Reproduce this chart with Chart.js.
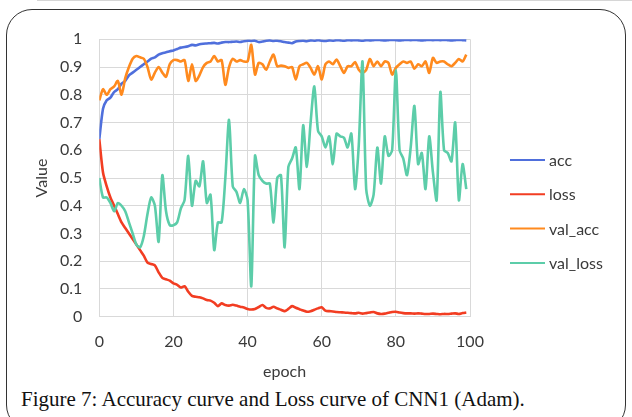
<!DOCTYPE html>
<html>
<head>
<meta charset="utf-8">
<script src="https://cdn.jsdelivr.net/npm/chart.js@4/dist/chart.umd.min.js"></script>
<style>
  html, body { margin: 0; padding: 0; background: #fff; }
  body { width: 632px; height: 417px; position: relative; overflow: hidden; }
  #frame {
    position: absolute; left: 6px; top: 9px; width: 618px; height: 420px;
    border: 1.3px solid #333; border-radius: 26px;
  }
  #topline { position: absolute; left: 37px; top: 0; width: 595px; height: 1px; background: #d6d6d6; }
  #chart { position: absolute; left: 0; top: 0; }
  #caption {
    position: absolute; left: 21px; top: 387px; white-space: nowrap;
    font-family: "Liberation Serif", "DejaVu Serif", serif; font-size: 21px; color: #111;
  }
</style>
</head>
<body>
<div id="topline"></div>
<div id="frame"></div>
<canvas id="chart" width="632" height="385"></canvas>
<div id="caption">Figure 7: Accuracy curve and Loss curve of CNN1 (Adam).</div>
<script>
'use strict';

// ******* DATA (one value per epoch 0..99) *******
let seriesNames = ['acc', 'loss', 'val_acc', 'val_loss'];
let yTicks = [0, 0.1, 0.2, 0.3, 0.4, 0.5, 0.6, 0.7, 0.8, 0.9, 1];
let xTicks = [0, 20, 40, 60, 80, 100];

let acc = [
  0.64, 0.75, 0.78, 0.79, 0.81, 0.82, 0.84, 0.85, 0.87, 0.88,
  0.89, 0.90, 0.91, 0.92, 0.93, 0.935, 0.945, 0.95, 0.953, 0.957,
  0.96, 0.965, 0.97, 0.972, 0.975, 0.98, 0.978, 0.982, 0.984, 0.985,
  0.986, 0.987, 0.985, 0.988, 0.99, 0.99, 0.991, 0.992, 0.99, 0.993,
  0.995, 0.994, 0.995, 0.99, 0.992, 0.995, 0.996, 0.994, 0.995, 0.993,
  0.99, 0.988, 0.986, 0.992, 0.994, 0.995, 0.993, 0.996, 0.995, 0.997,
  0.995, 0.994, 0.996, 0.995, 0.997, 0.996, 0.995, 0.997, 0.996, 0.997,
  0.996, 0.995, 0.997, 0.996, 0.997, 0.998, 0.997, 0.996, 0.997, 0.998,
  0.997, 0.996, 0.997, 0.998, 0.997, 0.998, 0.997, 0.996, 0.997, 0.998,
  0.997, 0.998, 0.997, 0.998, 0.997, 0.996, 0.997, 0.998, 0.997, 0.996
];

let loss = [
  0.64, 0.52, 0.47, 0.43, 0.40, 0.37, 0.34, 0.32, 0.30, 0.28,
  0.26, 0.24, 0.22, 0.195, 0.19, 0.185, 0.16, 0.14, 0.135, 0.13,
  0.12, 0.115, 0.105, 0.11, 0.09, 0.075, 0.072, 0.07, 0.066, 0.06,
  0.058, 0.05, 0.038, 0.048, 0.042, 0.04, 0.043, 0.04, 0.036, 0.033,
  0.028, 0.026, 0.028, 0.035, 0.042, 0.032, 0.03, 0.036, 0.03, 0.025,
  0.02, 0.028, 0.038, 0.032, 0.027, 0.022, 0.018, 0.02, 0.025, 0.03,
  0.034, 0.022, 0.02, 0.019, 0.017, 0.016, 0.015, 0.014, 0.013, 0.012,
  0.014, 0.011, 0.013, 0.015, 0.017, 0.012, 0.01, 0.011, 0.014, 0.017,
  0.018, 0.015, 0.013, 0.012, 0.012, 0.011, 0.012, 0.011, 0.01, 0.01,
  0.011, 0.01, 0.009, 0.01, 0.01, 0.011, 0.012, 0.01, 0.013, 0.015
];

let valAcc = [
  0.78, 0.82, 0.80, 0.82, 0.83, 0.85, 0.80, 0.86, 0.90, 0.93,
  0.94, 0.935, 0.93, 0.90, 0.855, 0.88, 0.90, 0.88, 0.865, 0.91,
  0.925, 0.925, 0.92, 0.925, 0.85, 0.91, 0.85, 0.87, 0.90, 0.915,
  0.92, 0.94, 0.92, 0.925, 0.836, 0.90, 0.93, 0.92, 0.925, 0.92,
  0.92, 0.98, 0.873, 0.915, 0.91, 0.89, 0.92, 0.945, 0.903, 0.905,
  0.903, 0.897, 0.90, 0.855, 0.903, 0.91, 0.915, 0.897, 0.873, 0.903,
  0.855, 0.91, 0.92, 0.91, 0.927, 0.903, 0.879, 0.903, 0.903, 0.918,
  0.89, 0.879, 0.89, 0.929, 0.903, 0.92, 0.903, 0.92, 0.915, 0.873,
  0.897, 0.91, 0.92, 0.915, 0.92, 0.894, 0.91, 0.903, 0.92, 0.879,
  0.933, 0.915, 0.92, 0.92, 0.91, 0.903, 0.915, 0.929, 0.92, 0.945
];

let valLoss = [
  0.50, 0.43, 0.43, 0.41, 0.38, 0.41, 0.40, 0.38, 0.34, 0.30,
  0.26, 0.25, 0.29, 0.37, 0.43, 0.40, 0.27, 0.51, 0.38, 0.33,
  0.33, 0.34, 0.39, 0.42, 0.58, 0.40, 0.49, 0.47, 0.56, 0.41,
  0.44, 0.24, 0.34, 0.34, 0.50, 0.71, 0.47, 0.45, 0.41, 0.46,
  0.42, 0.11, 0.58, 0.51, 0.49, 0.48, 0.48, 0.34, 0.50, 0.51,
  0.25, 0.54, 0.57, 0.61, 0.46, 0.69, 0.54, 0.70, 0.83, 0.67,
  0.65, 0.61, 0.65, 0.55, 0.66, 0.65, 0.645, 0.61, 0.66, 0.46,
  0.62, 0.92, 0.46, 0.40, 0.44, 0.61, 0.48, 0.65, 0.58, 0.60,
  0.89, 0.60, 0.57, 0.51, 0.61, 0.76, 0.55, 0.59, 0.46, 0.65,
  0.52, 0.42, 0.81, 0.60, 0.59, 0.56, 0.70, 0.42, 0.55, 0.46
];

let seriesColors = ['#4f6fdc', '#f23d22', '#ff8a1e', '#5ccda9'];

// ******* HELPERS *******
function toPoints(values) {
  return values.map((v, i) => ({ x: i, y: v }));
}

let textColor = '#3a3a3a';
let uiFont = 'Lato, "Open Sans", "Liberation Sans", sans-serif';
let gridColor = '#d9d9d9';

// legend drawn at the right like the Excel one
let sideLegend = {
  id: 'sideLegend',
  afterDraw(chart) {
    let c = chart.ctx;
    c.save();
    chart.data.datasets.forEach((ds, i) => {
      let y = 160 + i * 34.3;
      c.strokeStyle = ds.borderColor;
      c.lineWidth = 2;
      c.beginPath();
      c.moveTo(510, y);
      c.lineTo(545, y);
      c.stroke();
      c.fillStyle = textColor;
      c.font = '16px ' + uiFont;
      c.textBaseline = 'middle';
      c.textAlign = 'left';
      c.fillText(ds.label, 549, y + 1);
    });
    c.restore();
  }
};

let datasets = [acc, loss, valAcc, valLoss].map((vals, i) => ({
  label: seriesNames[i],
  data: toPoints(vals),
  borderColor: seriesColors[i],
  backgroundColor: seriesColors[i],
  borderWidth: 2.6,
  pointRadius: 0,
  tension: 0.25,
  order: 4 - i
}));

let ctx = document.getElementById('chart');

new Chart(ctx, { //eslint-disable-line
  type: 'line',
  data: { datasets: datasets },
  plugins: [sideLegend],
  options: {
    responsive: false,
    animation: false,
    layout: { padding: { left: 32, top: 39.3, right: 162, bottom: 3.4 } },
    plugins: {
      legend: { display: false },
      tooltip: { enabled: false }
    },
    scales: {
      x: {
        type: 'linear',
        min: 0,
        max: 100,
        afterFit: (s) => { s.height = 64.9; },
        afterBuildTicks: (s) => { s.ticks = xTicks.map(v => ({ value: v })); },
        grid: { color: gridColor, drawTicks: false },
        border: { color: gridColor },
        ticks: { color: textColor, padding: 16, font: { family: uiFont, size: 16 }, maxRotation: 0 },
        title: { display: true, text: 'epoch', color: textColor, padding: 0, font: { family: uiFont, size: 16 } }
      },
      y: {
        min: 0,
        max: 1,
        afterFit: (s) => { s.width = 67.3; },
        afterBuildTicks: (s) => { s.ticks = yTicks.map(v => ({ value: v })); },
        grid: { color: gridColor, drawTicks: false },
        border: { color: gridColor },
        ticks: {
          color: textColor,
          padding: 17,
          font: { family: uiFont, size: 16 },
          callback: (v) => String(v)
        },
        title: { display: true, text: 'Value', color: textColor, padding: 0, font: { family: uiFont, size: 16 } }
      }
    }
  }
});
</script>
</body>
</html>
